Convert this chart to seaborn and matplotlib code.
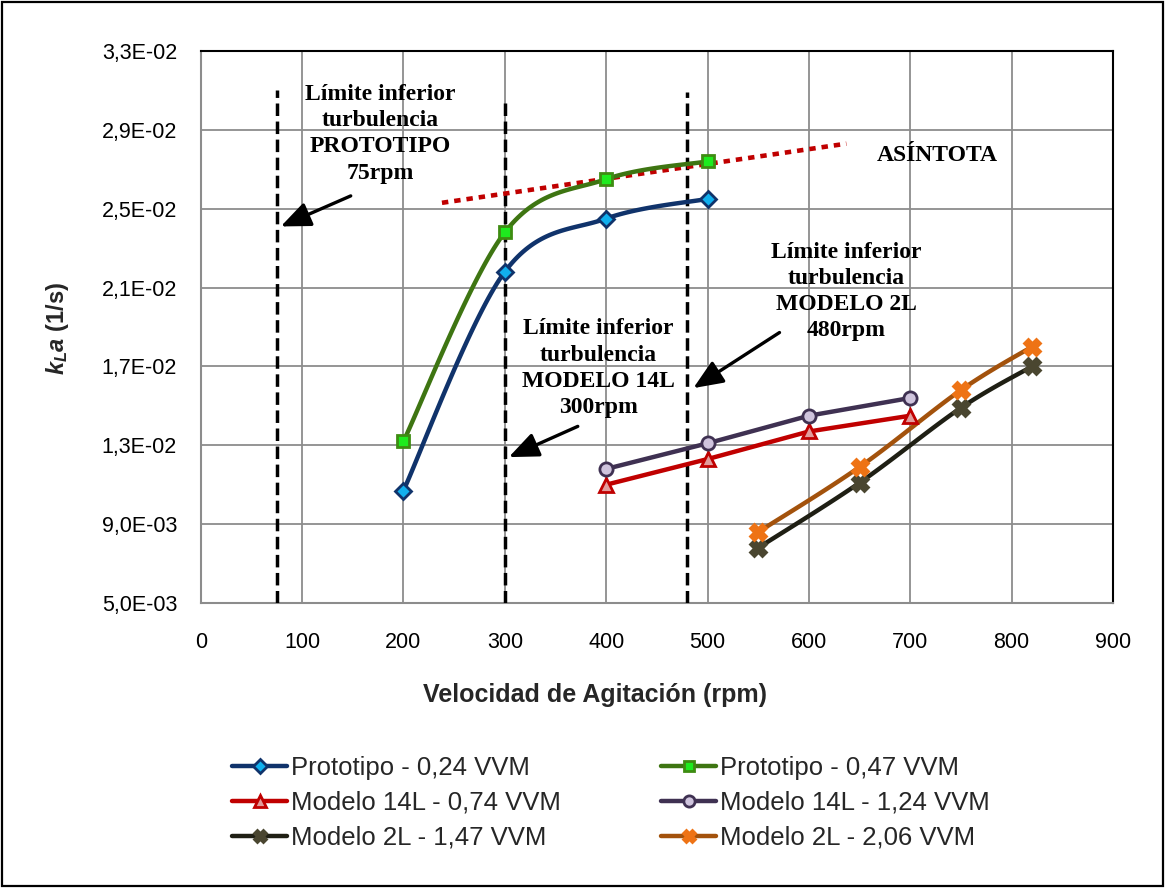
import numpy as np
import pandas as pd
import matplotlib
matplotlib.use("Agg")
import matplotlib.pyplot as plt
import seaborn as sns
from matplotlib.lines import Line2D
from matplotlib.patches import Rectangle
from matplotlib.ticker import FuncFormatter

# ---------------- data ----------------
rpm_proto = [200, 300, 400, 500]
kla_proto_024 = [0.0107, 0.0218, 0.0245, 0.0255]
kla_proto_047 = [0.0132, 0.0238, 0.0265, 0.0274]

rpm_14L = [400, 500, 600, 700]
kla_14L_074 = [0.0110, 0.0123, 0.0137, 0.0145]
kla_14L_124 = [0.0118, 0.0131, 0.0145, 0.0154]

rpm_2L = [550, 650, 750, 820]
kla_2L_147 = [0.0078, 0.0111, 0.0149, 0.0170]
kla_2L_206 = [0.0086, 0.0119, 0.0158, 0.0180]

series_names = ["Prototipo - 0,24 VVM", "Prototipo - 0,47 VVM",
                "Modelo 14L - 0,74 VVM", "Modelo 14L - 1,24 VVM",
                "Modelo 2L - 1,47 VVM", "Modelo 2L - 2,06 VVM"]

limit_rpm = [75, 300, 480]
limit_top = [0.0310, 0.0304, 0.0309]

asym_rpm = [238, 637]
asym_kla = [0.0253, 0.0283]

x_ticks = [0, 100, 200, 300, 400, 500, 600, 700, 800, 900]
y_ticks = [0.005, 0.009, 0.013, 0.017, 0.021, 0.025, 0.029, 0.033]

# ---------------- style ----------------
sns.set_theme(style="white")
plt.rcParams["font.family"] = ["Liberation Sans", "DejaVu Sans"]
plt.rcParams["mathtext.fontset"] = "custom"
plt.rcParams["mathtext.it"] = "Liberation Sans:bold:italic"
plt.rcParams["mathtext.rm"] = "Liberation Sans:bold"

styles = [
    dict(color="#10336B", marker="D", mfc="#11B0EE", mec="#10336B", ms=8.5, smooth=True),
    dict(color="#3E7512", marker="s", mfc="#1EEB1E", mec="#3E8C12", ms=8.5, smooth=True),
    dict(color="#C00000", marker="^", mfc="#E29C9C", mec="#C00000", ms=10, smooth=False),
    dict(color="#3F3152", marker="o", mfc="#CFC4DD", mec="#3F3152", ms=9.5, smooth=False),
    dict(color="#1F1F14", marker="X", mfc="#4A4630", mec="#4A4630", ms=11, smooth=True),
    dict(color="#A3520C", marker="X", mfc="#EE7315", mec="#EE7315", ms=11, smooth=True),
]
xs_all = [rpm_proto, rpm_proto, rpm_14L, rpm_14L, rpm_2L, rpm_2L]
ys_all = [kla_proto_024, kla_proto_047, kla_14L_074, kla_14L_124, kla_2L_147, kla_2L_206]


def excel_smooth(x, y, n=40):
    pts = np.column_stack([x, y]).astype(float)
    out = []
    for i in range(len(pts) - 1):
        p0 = pts[i - 1] if i > 0 else pts[i]
        p1 = pts[i]
        p2 = pts[i + 1]
        p3 = pts[i + 2] if i + 2 < len(pts) else pts[i + 1]
        c1 = p1 + (p2 - p0) / 6.0
        c2 = p2 - (p3 - p1) / 6.0
        t = np.linspace(0, 1, n)[:, None]
        seg = (1 - t) ** 3 * p1 + 3 * (1 - t) ** 2 * t * c1 + 3 * (1 - t) * t ** 2 * c2 + t ** 3 * p2
        out.append(seg if i == 0 else seg[1:])
    return np.vstack(out)


W, H = 1165, 888
fig = plt.figure(figsize=(W / 100, H / 100), dpi=100)
fig.patch.set_facecolor("white")
ax = fig.add_axes([200.7 / W, 1 - 603 / H, (1113 - 200.7) / W, (603 - 51) / H])

# grid
ax.set_xlim(0, 900)
ax.set_ylim(0.005, 0.033)
ax.set_xticks(x_ticks)
ax.set_yticks(y_ticks)
ax.grid(True, color="#8C8C8C", lw=1.3)
ax.set_axisbelow(True)
for s in ["left", "bottom"]:
    ax.spines[s].set_color("#8C8C8C")
    ax.spines[s].set_linewidth(1.5)
for s in ["top", "right"]:
    ax.spines[s].set_color("black")
    ax.spines[s].set_linewidth(1.5)
ax.tick_params(length=0, labelsize=15.5, colors="black")
ax.tick_params(axis="y", pad=17)
ax.tick_params(axis="x", pad=21)
ax.yaxis.set_major_formatter(FuncFormatter(lambda v, p: f"{v:.1E}".replace(".", ",")))

# vertical limit lines
for xr, yt in zip(limit_rpm, limit_top):
    ax.plot([xr, xr], [0.005, yt], color="black", lw=2.5, ls=(0, (3.6, 1.6)), zorder=3,
            solid_capstyle="butt", dash_capstyle="butt")

# asymptote
ax.plot(asym_rpm, asym_kla, color="#C00000", lw=3.3, ls=(0, (1.4, 1.3)), zorder=4,
        dash_capstyle="butt")

# series
handles = []
for name, xs, ys, st in zip(series_names, xs_all, ys_all, styles):
    if st["smooth"]:
        sm = excel_smooth(xs, ys)
        df_line = pd.DataFrame({"rpm": sm[:, 0], "kla": sm[:, 1]})
    else:
        df_line = pd.DataFrame({"rpm": xs, "kla": ys})
    sns.lineplot(data=df_line, x="rpm", y="kla", ax=ax, color=st["color"], lw=3.2,
                 sort=False, estimator=None, zorder=5)
    df_pts = pd.DataFrame({"rpm": xs, "kla": ys})
    ax.plot(df_pts["rpm"], df_pts["kla"], ls="none", marker=st["marker"], ms=st["ms"],
            mfc=st["mfc"], mec=st["mec"], mew=2, zorder=6)
    handles.append(Line2D([], [], color=st["color"], lw=3.2, marker=st["marker"],
                          ms=st["ms"] * 0.85, mfc=st["mfc"], mec=st["mec"], mew=2, label=name))

ax.set_xlabel("Velocidad de Agitación (rpm)", fontsize=18, fontweight="bold")
ax.xaxis.set_label_coords((595 - 200.7) / 912.3, (603 - 695) / 552)
ax.xaxis.label.set_va("center")
ax.set_ylabel(r"$k_L a$ (1/s)", fontsize=17, fontweight="bold")
ax.yaxis.set_label_coords((57 - 200.7) / 912.3, (603 - 328) / 552)
ax.yaxis.label.set_va("center")

# annotations
tfont = dict(family=["Liberation Serif", "DejaVu Serif"], fontsize=17, fontweight="bold",
             ha="center", va="center", linespacing=1.33, color="black")
ax.text(177, 0.0288, "Límite inferior\nturbulencia\nPROTOTIPO\n75rpm", **tfont, zorder=7)
ax.text(392, 0.0169, "Límite inferior\nturbulencia\nMODELO 14L\n300rpm", **tfont, zorder=7)
ax.text(637, 0.0208, "Límite inferior\nturbulencia\nMODELO 2L\n480rpm", **tfont, zorder=7)
ax.text(727, 0.0277, "ASÍNTOTA", **tfont, zorder=7)

arrow = dict(arrowstyle="-|>,head_length=1.0,head_width=0.42", color="black", lw=2.4,
             shrinkA=0, shrinkB=0, mutation_scale=18)
ax.annotate("", xy=(79, 0.0241), xytext=(148, 0.02565), arrowprops=arrow, zorder=7)
ax.annotate("", xy=(304, 0.0124), xytext=(372, 0.01396), arrowprops=arrow, zorder=7)
ax.annotate("", xy=(486, 0.0159), xytext=(571, 0.01872), arrowprops=arrow, zorder=7)

# legend (row-major order as in the reference)
order = [0, 2, 4, 1, 3, 5]
fig.legend(handles=[handles[i] for i in order], loc="upper left",
           bbox_to_anchor=(232 / W, 1 - 756 / H),
           ncol=2, frameon=False, fontsize=18.5, handlelength=2.15, handletextpad=0.15,
           columnspacing=3.9, labelspacing=0.42, borderpad=0, borderaxespad=0)

# outer frame
fig.add_artist(Rectangle((2 / W, 2 / H), (W - 4) / W, (H - 4) / H, transform=fig.transFigure,
                         fill=False, edgecolor="black", lw=1.6))

fig.savefig("out.png", dpi=100, facecolor="white")
